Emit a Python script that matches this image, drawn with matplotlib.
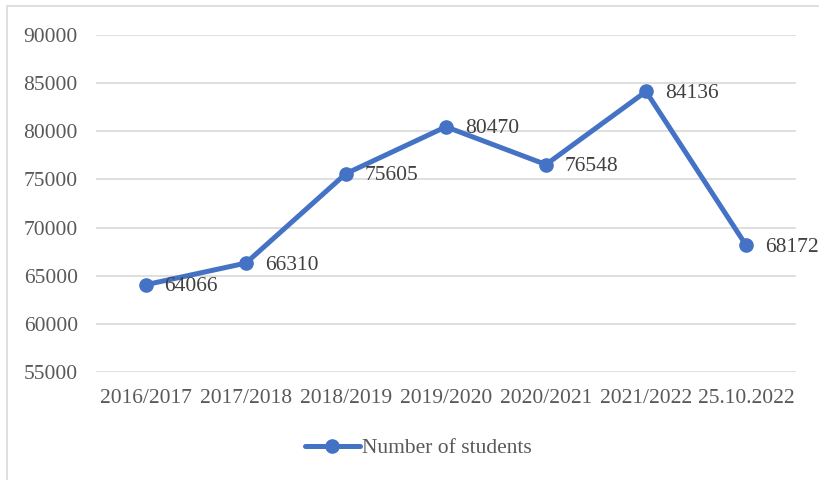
import matplotlib.pyplot as plt
from matplotlib.patches import Rectangle

plt.rcParams["font.family"] = ["Liberation Serif", "DejaVu Serif"]

periods = ["2016/2017", "2017/2018", "2018/2019", "2019/2020",
           "2020/2021", "2021/2022", "25.10.2022"]
students = [64066, 66310, 75605, 80470, 76548, 84136, 68172]
y_ticks = [55000, 60000, 65000, 70000, 75000, 80000, 85000, 90000]

text_color = "#595959"
line_color = "#4472C4"

fig = plt.figure(figsize=(8.19, 4.8), dpi=100)
ax = fig.add_axes([0.117, 0.225, 0.855, 0.702])

x = list(range(len(periods)))
ax.plot(x, students, color=line_color, linewidth=3.6, marker="o",
        markersize=9.5, solid_capstyle="round", label="Number of students",
        zorder=3)

for xi, v in zip(x, students):
    ax.annotate(str(v), (xi, v), xytext=(13.5, -1.5), textcoords="offset points",
                ha="left", va="center", fontsize=15.5, color="#404040")

ax.set_xlim(-0.5, len(periods) - 0.5)
ax.set_ylim(55000, 90000)
ax.set_yticks(y_ticks)
ax.set_xticks(x)
ax.set_xticklabels(periods)
ax.tick_params(length=0, labelsize=15.5, colors=text_color)
ax.tick_params(axis="x", pad=12)
ax.tick_params(axis="y", pad=13)
ax.grid(axis="y", color="#D9D9D9", linewidth=1.2)
ax.set_axisbelow(True)
for s in ax.spines.values():
    s.set_visible(False)

leg = fig.legend(loc="center", bbox_to_anchor=(0.511, 0.066), frameon=False,
                 fontsize=15.5, handlelength=2.55, handletextpad=0.12)
for t in leg.get_texts():
    t.set_color(text_color)

# chart frame: only the top and left edges fall inside the image
fig.patches.append(Rectangle((0.008, -0.05), 1.1, 1.038, transform=fig.transFigure,
                             fill=False, edgecolor="#D9D9D9", linewidth=1.2))

fig.savefig("out.png", dpi=100)
